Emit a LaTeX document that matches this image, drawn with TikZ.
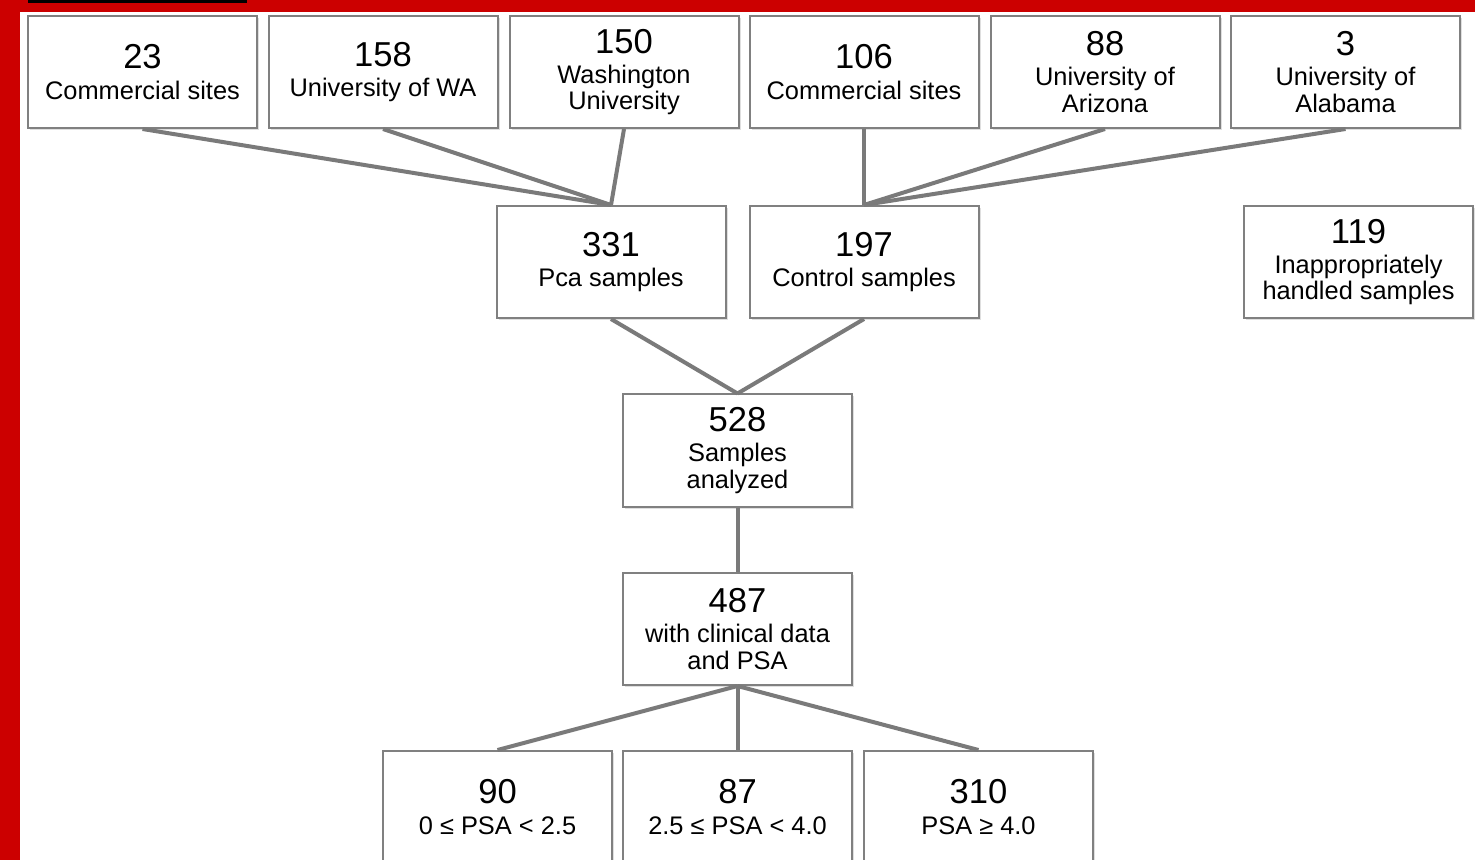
\documentclass[tikz,border=0pt]{standalone}
\usepackage{fontspec}
\setmainfont{Liberation Sans}
\usetikzlibrary{shadows}

\definecolor{slidered}{HTML}{CC0000}
\definecolor{boxgray}{HTML}{808080}

\newcommand{\numfont}{\fontsize{17.3}{19}\selectfont}
\newcommand{\lblfont}{\fontsize{12.7}{13.2}\selectfont}

\begin{document}
\begin{tikzpicture}[x=0.5pt, y=-0.5pt,
    box/.style={draw=boxgray, line width=1pt, fill=white, minimum width=114.5pt,
        minimum height=56pt, inner sep=0pt, align=center, font=\lblfont,
        drop shadow={opacity=0.25, shadow xshift=1pt, shadow yshift=-1pt}},
    link/.style={draw=boxgray!95!black, line width=2pt}]
    % --- Frame ---
    \useasboundingbox (0, 0) rectangle (1475, 860);
    \fill[white] (0, 0) rectangle (1475, 860);
    \fill[slidered] (0, 0) rectangle (1475, 12);
    \fill[slidered] (0, 0) rectangle (20, 860);
    \fill[black] (28, 0) rectangle (247, 3);

    % --- Sources (top row) ---
    \def\topY{72}
    \node[box] (comm1) at (142.5, \topY) {\numfont 23\\[2pt]Commercial sites};
    \node[box] (uwa)   at (383, \topY)   {\numfont 158\\[2pt]University of WA};
    \node[box] (washu) at (624, \topY)   {\numfont 150\\[2pt]Washington\\University};
    \node[box] (comm2) at (864, \topY)   {\numfont 106\\[2pt]Commercial sites};
    \node[box] (uaz)   at (1105, \topY)  {\numfont 88\\[2pt]University of\\Arizona};
    \node[box] (ual)   at (1345.5, \topY){\numfont 3\\[2pt]University of\\Alabama};

    % --- Sample groups ---
    \def\midY{262}
    \node[box] (pca)    at (611, \midY)    {\numfont 331\\[2pt]Pca samples};
    \node[box] (ctrl)   at (864, \midY)    {\numfont 197\\[2pt]Control samples};
    \node[box] (inapp)  at (1358.5, \midY) {\numfont 119\\[2pt]Inappropriately\\handled samples};

    % --- Analysis ---
    \node[box] (analyzed) at (737.5, 450.5) {\numfont 528\\[2pt]Samples\\analyzed};
    \node[box] (clinical) at (737.5, 629)   {\numfont 487\\[2pt]with clinical data\\and PSA};

    % --- PSA ranges ---
    \def\botY{807}
    \node[box] (psaLow)  at (497.5, \botY) {\numfont 90\\[2pt]0 ≤ PSA < 2.5};
    \node[box] (psaMid)  at (737.5, \botY) {\numfont 87\\[2pt]2.5 ≤ PSA < 4.0};
    \node[box] (psaHigh) at (978.5, \botY) {\numfont 310\\[2pt]PSA ≥ 4.0};

    % --- Connectors ---
    \foreach \src in {comm1, uwa, washu} {
        \draw[link] (\src.south) -- (pca.north);
    }
    \foreach \src in {comm2, uaz, ual} {
        \draw[link] (\src.south) -- (ctrl.north);
    }
    \draw[link] (pca.south) -- (analyzed.north);
    \draw[link] (ctrl.south) -- (analyzed.north);
    \draw[link] (analyzed.south) -- (clinical.north);
    \foreach \dst in {psaLow, psaMid, psaHigh} {
        \draw[link] (clinical.south) -- (\dst.north);
    }
\end{tikzpicture}
\end{document}
